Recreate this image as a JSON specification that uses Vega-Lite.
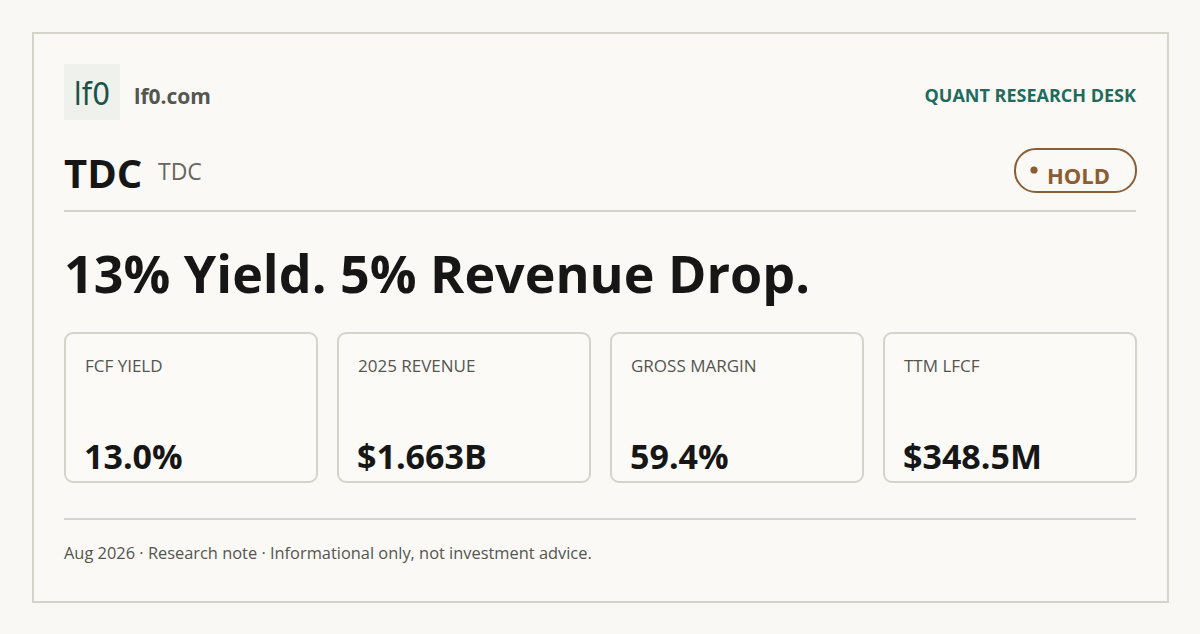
{
  "$schema": "https://vega.github.io/schema/vega-lite/v6.json",
  "width": 1200,
  "height": 634,
  "autosize": {"type": "fit", "contains": "padding"},
  "padding": 0,
  "background": "#f9f8f4",
  "config": {
    "view": {"stroke": null},
    "font": "Open Sans",
    "axis": {"disable": true},
    "text": {"font": "Open Sans", "baseline": "alphabetic", "align": "left"}
  },
  "layer": [
    {
      "layer": [
        {
          "data": {"values": [{"element": "frame"}]},
          "mark": {"type": "rect", "fill": "#faf9f5", "stroke": "#d6d4ca", "strokeWidth": 2},
          "encoding": {
            "x": {"datum": 33, "type": "quantitative", "scale": {"domain": [0, 1200], "nice": false, "zero": false}, "axis": null},
            "x2": {"datum": 1168},
            "y": {"datum": 33, "type": "quantitative", "scale": {"domain": [0, 634], "nice": false, "zero": false, "reverse": true}, "axis": null},
            "y2": {"datum": 602}
          }
        },
        {
          "data": {"values": [{"element": "logo box"}]},
          "mark": {"type": "rect", "fill": "#eff1ec"},
          "encoding": {
            "x": {"datum": 64, "type": "quantitative", "scale": {"domain": [0, 1200], "nice": false, "zero": false}, "axis": null},
            "x2": {"datum": 120},
            "y": {"datum": 64, "type": "quantitative", "scale": {"domain": [0, 634], "nice": false, "zero": false, "reverse": true}, "axis": null},
            "y2": {"datum": 120}
          }
        },
        {
          "data": {"values": [{"label": "lf0"}]},
          "mark": {"type": "text", "font": "DejaVu Sans Condensed", "fontSize": 32, "color": "#1b5249", "align": "center"},
          "encoding": {
            "x": {"datum": 92, "type": "quantitative", "scale": {"domain": [0, 1200], "nice": false, "zero": false}, "axis": null},
            "y": {"datum": 105, "type": "quantitative", "scale": {"domain": [0, 634], "nice": false, "zero": false, "reverse": true}, "axis": null},
            "text": {"field": "label"}
          }
        },
        {
          "data": {"values": [{"label": "lf0.com"}]},
          "mark": {"type": "text", "fontSize": 21, "fontWeight": "bold", "color": "#55554f"},
          "encoding": {
            "x": {"datum": 134, "type": "quantitative", "scale": {"domain": [0, 1200], "nice": false, "zero": false}, "axis": null},
            "y": {"datum": 104, "type": "quantitative", "scale": {"domain": [0, 634], "nice": false, "zero": false, "reverse": true}, "axis": null},
            "text": {"field": "label"}
          }
        },
        {
          "data": {"values": [{"label": "QUANT RESEARCH DESK"}]},
          "mark": {"type": "text", "fontSize": 18, "fontWeight": "bold", "color": "#1f6b5e", "align": "right"},
          "encoding": {
            "x": {"datum": 1136, "type": "quantitative", "scale": {"domain": [0, 1200], "nice": false, "zero": false}, "axis": null},
            "y": {"datum": 102, "type": "quantitative", "scale": {"domain": [0, 634], "nice": false, "zero": false, "reverse": true}, "axis": null},
            "text": {"field": "label"}
          }
        },
        {
          "data": {"values": [{"label": "TDC"}]},
          "mark": {"type": "text", "fontSize": 40, "fontWeight": "bold", "color": "#161616"},
          "encoding": {
            "x": {"datum": 64, "type": "quantitative", "scale": {"domain": [0, 1200], "nice": false, "zero": false}, "axis": null},
            "y": {"datum": 188, "type": "quantitative", "scale": {"domain": [0, 634], "nice": false, "zero": false, "reverse": true}, "axis": null},
            "text": {"field": "label"}
          }
        },
        {
          "data": {"values": [{"label": "TDC"}]},
          "mark": {"type": "text", "fontSize": 23, "color": "#666660"},
          "encoding": {
            "x": {"datum": 158, "type": "quantitative", "scale": {"domain": [0, 1200], "nice": false, "zero": false}, "axis": null},
            "y": {"datum": 180, "type": "quantitative", "scale": {"domain": [0, 634], "nice": false, "zero": false, "reverse": true}, "axis": null},
            "text": {"field": "label"}
          }
        },
        {
          "data": {"values": [{"element": "rating pill"}]},
          "mark": {"type": "rect", "fill": "transparent", "stroke": "#8c5d33", "strokeWidth": 2, "cornerRadius": 21},
          "encoding": {
            "x": {"datum": 1015, "type": "quantitative", "scale": {"domain": [0, 1200], "nice": false, "zero": false}, "axis": null},
            "x2": {"datum": 1136},
            "y": {"datum": 149, "type": "quantitative", "scale": {"domain": [0, 634], "nice": false, "zero": false, "reverse": true}, "axis": null},
            "y2": {"datum": 192}
          }
        },
        {
          "data": {"values": [{"element": "rating dot"}]},
          "mark": {"type": "point", "filled": true, "shape": "circle", "size": 52, "color": "#8c5d33", "opacity": 1},
          "encoding": {
            "x": {"datum": 1034, "type": "quantitative", "scale": {"domain": [0, 1200], "nice": false, "zero": false}, "axis": null},
            "y": {"datum": 170, "type": "quantitative", "scale": {"domain": [0, 634], "nice": false, "zero": false, "reverse": true}, "axis": null}
          }
        },
        {
          "data": {"values": [{"label": "HOLD"}]},
          "mark": {"type": "text", "fontSize": 22, "fontWeight": "bold", "color": "#8c5d33"},
          "encoding": {
            "x": {"datum": 1047, "type": "quantitative", "scale": {"domain": [0, 1200], "nice": false, "zero": false}, "axis": null},
            "y": {"datum": 184, "type": "quantitative", "scale": {"domain": [0, 634], "nice": false, "zero": false, "reverse": true}, "axis": null},
            "text": {"field": "label"}
          }
        },
        {
          "data": {"values": [{"element": "top divider"}]},
          "mark": {"type": "rule", "color": "#d6d4ca", "strokeWidth": 2},
          "encoding": {
            "x": {"datum": 64, "type": "quantitative", "scale": {"domain": [0, 1200], "nice": false, "zero": false}, "axis": null},
            "x2": {"datum": 1136},
            "y": {"datum": 211, "type": "quantitative", "scale": {"domain": [0, 634], "nice": false, "zero": false, "reverse": true}, "axis": null}
          }
        },
        {
          "data": {"values": [{"label": "13% Yield. 5% Revenue Drop."}]},
          "mark": {"type": "text", "fontSize": 52, "fontWeight": "bold", "color": "#161616"},
          "encoding": {
            "x": {"datum": 64, "type": "quantitative", "scale": {"domain": [0, 1200], "nice": false, "zero": false}, "axis": null},
            "y": {"datum": 293, "type": "quantitative", "scale": {"domain": [0, 634], "nice": false, "zero": false, "reverse": true}, "axis": null},
            "text": {"field": "label"}
          }
        },
        {
          "data": {"values": [{"element": "bottom divider"}]},
          "mark": {"type": "rule", "color": "#d6d4ca", "strokeWidth": 2},
          "encoding": {
            "x": {"datum": 64, "type": "quantitative", "scale": {"domain": [0, 1200], "nice": false, "zero": false}, "axis": null},
            "x2": {"datum": 1136},
            "y": {"datum": 519, "type": "quantitative", "scale": {"domain": [0, 634], "nice": false, "zero": false, "reverse": true}, "axis": null}
          }
        },
        {
          "data": {"values": [{"label": "Aug 2026 · Research note · Informational only, not investment advice."}]},
          "mark": {"type": "text", "fontSize": 16.4, "color": "#55554f"},
          "encoding": {
            "x": {"datum": 64, "type": "quantitative", "scale": {"domain": [0, 1200], "nice": false, "zero": false}, "axis": null},
            "y": {"datum": 559, "type": "quantitative", "scale": {"domain": [0, 634], "nice": false, "zero": false, "reverse": true}, "axis": null},
            "text": {"field": "label"}
          }
        }
      ]
    },
    {
      "data": {
        "values": [
          {"metric": "FCF YIELD", "value": "13.0%"},
          {"metric": "2025 REVENUE", "value": "$1.663B"},
          {"metric": "GROSS MARGIN", "value": "59.4%"},
          {"metric": "TTM LFCF", "value": "$348.5M"}
        ]
      },
      "layer": [
        {
          "mark": {"type": "rect", "fill": "#fbfaf7", "stroke": "#d6d4ca", "strokeWidth": 2, "cornerRadius": 8},
          "encoding": {
            "x": {"field": "metric", "type": "nominal", "sort": null, "scale": {"range": [65, 1136], "paddingInner": 0.0769, "paddingOuter": 0}, "axis": null},
            "y": {"datum": 333, "type": "quantitative", "scale": {"domain": [0, 634], "nice": false, "zero": false, "reverse": true}, "axis": null},
            "y2": {"datum": 482}
          }
        },
        {
          "mark": {"type": "text", "fontSize": 17, "color": "#55554f", "dx": 20},
          "encoding": {
            "x": {"field": "metric", "type": "nominal", "sort": null, "bandPosition": 0, "axis": null},
            "y": {"datum": 372, "type": "quantitative", "scale": {"domain": [0, 634], "nice": false, "zero": false, "reverse": true}, "axis": null},
            "text": {"field": "metric"}
          }
        },
        {
          "mark": {"type": "text", "fontSize": 34, "fontWeight": "bold", "color": "#161616", "dx": 19},
          "encoding": {
            "x": {"field": "metric", "type": "nominal", "sort": null, "bandPosition": 0, "axis": null},
            "y": {"datum": 469, "type": "quantitative", "scale": {"domain": [0, 634], "nice": false, "zero": false, "reverse": true}, "axis": null},
            "text": {"field": "value"}
          }
        }
      ]
    }
  ],
  "resolve": {"scale": {"x": "independent"}}
}
